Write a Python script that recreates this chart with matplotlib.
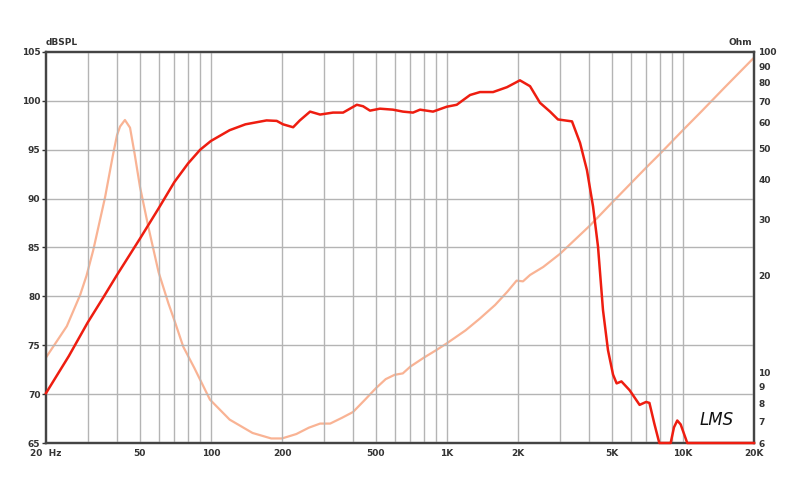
import matplotlib
matplotlib.use("Agg")
import matplotlib.pyplot as plt
from matplotlib.ticker import FixedLocator, NullLocator, NullFormatter

# SPL response (Hz, dB)
spl_freq = [20, 25, 30, 35, 40, 50, 60, 70, 80, 90, 100, 120, 140, 172, 190, 202, 223,
            238, 263, 290, 329, 363, 415, 441, 472, 520, 590, 651, 718, 769, 873, 998,
            1100, 1253, 1380, 1568, 1796, 2038, 2249, 2479, 2734, 2953, 3387, 3664,
            3920, 4159, 4365, 4583, 4812, 5055, 5235, 5487, 5943, 6550, 6980, 7210,
            7560, 7940, 8870, 9160, 9460, 9780, 10430, 20000]
spl_db = [70.1, 73.9, 77.3, 79.9, 82.2, 85.9, 89.0, 91.7, 93.6, 95.0, 95.9, 97.0, 97.6,
          98.0, 97.95, 97.6, 97.3, 98.0, 98.9, 98.6, 98.8, 98.8, 99.6, 99.45, 99.0,
          99.2, 99.1, 98.9, 98.8, 99.1, 98.9, 99.4, 99.6, 100.6, 100.9, 100.9, 101.4,
          102.1, 101.5, 99.8, 98.9, 98.1, 97.9, 95.7, 92.9, 89.2, 85.1, 78.6, 74.5,
          72.0, 71.1, 71.3, 70.4, 68.9, 69.2, 69.1, 67.0, 65.0, 65.0, 66.6, 67.3, 66.9,
          65.0, 65.0]

# impedance (Hz, ohm)
imp_freq = [20, 24.5, 27.9, 29.7, 31.7, 35.6, 38.4, 40, 41.2, 43.2, 45.4, 47.5, 50, 54.4,
            60, 66, 70, 76.3, 85, 99, 120, 150, 180, 200, 230, 260, 290, 320, 360, 400,
            450, 500, 550, 600, 650, 700, 800, 900, 1000, 1200, 1380, 1600, 1800, 1973,
            2100, 2249, 2560, 3013, 4038, 5000, 6000, 7000, 8000, 10000, 12000, 15000,
            20000]
imp_ohm = [11.1, 13.9, 17.4, 20.0, 24.0, 35.2, 47.5, 55.0, 58.5, 61.3, 58.0, 48.0, 38.0,
           28.2, 20.5, 16.4, 14.5, 12.0, 10.3, 8.2, 7.1, 6.45, 6.2, 6.2, 6.4, 6.7, 6.9,
           6.9, 7.2, 7.5, 8.2, 8.9, 9.5, 9.8, 9.9, 10.4, 11.1, 11.7, 12.3, 13.5, 14.7,
           16.2, 17.8, 19.3, 19.2, 20.1, 21.3, 23.4, 28.7, 33.8, 38.8, 43.6, 48.1, 57.0,
           65.3, 77.4, 96.0]

x_grid = [30, 40, 50, 60, 70, 80, 90, 100, 200, 300, 400, 500, 600, 700, 800, 900,
          1000, 2000, 3000, 4000, 5000, 6000, 7000, 8000, 9000, 10000]
x_ticks = [20, 50, 100, 200, 500, 1000, 2000, 5000, 10000, 20000]
x_labels = ["20  Hz", "50", "100", "200", "500", "1K", "2K", "5K", "10K", "20K"]
db_ticks = [65, 70, 75, 80, 85, 90, 95, 100, 105]
ohm_ticks = [6, 7, 8, 9, 10, 20, 30, 40, 50, 60, 70, 80, 90, 100]

fig = plt.figure(figsize=(8, 4.84), dpi=100)
ax = fig.add_axes([0.0575, 0.0847, 0.885, 0.8079])
ax.set_xscale("log")
ax.set_xlim(20, 20000)
ax.set_ylim(65, 105)

for f in x_grid:
    ax.axvline(f, color="#b4b4b4", lw=1.0, zorder=0)
for d in db_ticks[1:-1]:
    ax.axhline(d, color="#b4b4b4", lw=1.0, zorder=0)

ax.xaxis.set_major_locator(FixedLocator(x_ticks))
ax.xaxis.set_minor_locator(NullLocator())
ax.xaxis.set_minor_formatter(NullFormatter())
ax.set_xticklabels(x_labels)
ax.set_yticks(db_ticks)
ax.tick_params(axis="x", length=0, labelsize=6.5, pad=4, colors="#333333")
ax.tick_params(axis="y", length=3, width=1, labelsize=6.5, pad=1, colors="#333333")
for lab in ax.get_xticklabels() + ax.get_yticklabels():
    lab.set_fontweight("bold")
for s in ax.spines.values():
    s.set_color("#444444")
    s.set_linewidth(1.6)

ax2 = ax.twinx()
ax2.set_yscale("log")
ax2.set_ylim(6, 100)
ax2.yaxis.set_major_locator(FixedLocator(ohm_ticks))
ax2.yaxis.set_minor_locator(NullLocator())
ax2.set_yticklabels([str(t) for t in ohm_ticks])
ax2.tick_params(axis="y", length=0, labelsize=6.5, pad=3, colors="#333333")
for lab in ax2.get_yticklabels():
    lab.set_fontweight("bold")
for s in ax2.spines.values():
    s.set_color("#444444")
    s.set_linewidth(1.6)

# SPL drawn on the main (dB) axis, kept above the impedance curve
ax.plot(spl_freq, spl_db, color="#ee1d10", lw=1.8, zorder=3, clip_on=False,
        solid_joinstyle="round")
ax.set_zorder(ax2.get_zorder() + 1)
ax.patch.set_visible(False)
ax2.plot(imp_freq, imp_ohm, color="#f9b394", lw=1.6, zorder=2, solid_joinstyle="round")

fig.text(0.0575, 0.902, "dBSPL", fontsize=6.5, fontweight="bold", color="#333333",
         ha="left", va="bottom")
fig.text(0.94, 0.902, "Ohm", fontsize=6.5, fontweight="bold", color="#333333",
         ha="right", va="bottom")
ax.text(0.947, 0.035, "LMS", transform=ax.transAxes, fontsize=12, style="italic",
        family="DejaVu Sans", color="#111111", ha="center", va="bottom")

fig.savefig("out.png", dpi=100)
